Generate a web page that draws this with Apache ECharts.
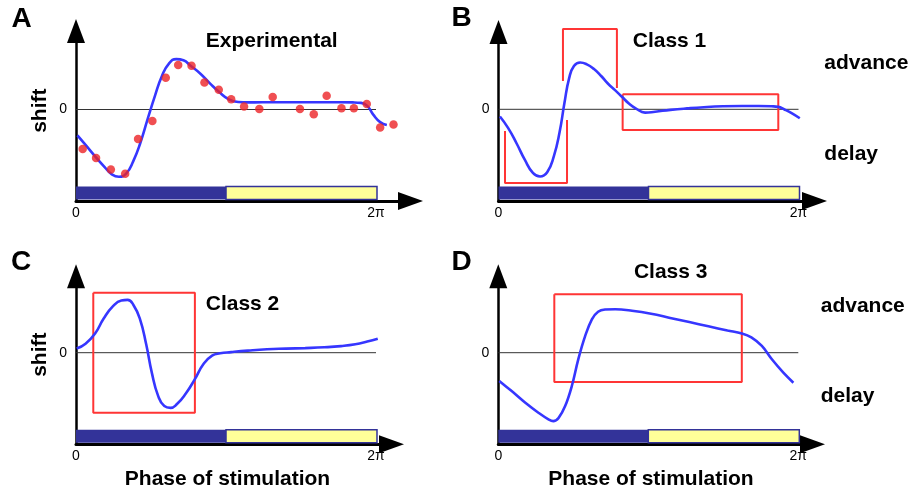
<!DOCTYPE html>
<html>
<head>
<meta charset="utf-8">
<script src="https://cdn.jsdelivr.net/npm/echarts@6/dist/echarts.min.js"></script>
<style>
  html, body { margin: 0; padding: 0; background: #fff; }
  #chart { width: 910px; height: 492px; }
</style>
</head>
<body>
<div id="chart"></div>
<script>
const TWO_PI = 2 * Math.PI;

// Axis ticks
const phaseTickValues = [0, TWO_PI];
const phaseTickLabels = ['0', '2π'];
const shiftTickValues = [0];
const shiftTickLabels = ['0'];

// Stimulation bar: dark half then light half of the cycle
const stimSegments = [
  [0, Math.PI, 0],
  [Math.PI, TWO_PI, 1]
];

// A: measured phase shifts and the fitted curve
const expPhase = [0.14, 0.42, 0.73, 1.03, 1.30, 1.60, 1.88, 2.14, 2.42, 2.69, 2.99, 3.25,
                  3.52, 3.84, 4.12, 4.69, 4.98, 5.25, 5.56, 5.82, 6.09, 6.37, 6.65];
const expShift = [-0.66, -0.81, -1.00, -1.07, -0.49, -0.19, 0.53, 0.74, 0.73, 0.45, 0.33, 0.17,
                  0.05, 0.01, 0.21, 0.01, -0.08, 0.23, 0.02, 0.02, 0.09, -0.30, -0.25];
const fitA = [[0.03,-0.43],[0.2,-0.59],[0.4,-0.78],[0.6,-0.96],[0.75,-1.08],[0.9,-1.12],
              [1.05,-1.07],[1.2,-0.86],[1.35,-0.55],[1.5,-0.16],[1.65,0.22],[1.8,0.56],
              [1.95,0.77],[2.1,0.84],[2.25,0.82],[2.4,0.73],[2.6,0.60],[2.8,0.44],
              [3.0,0.29],[3.2,0.17],[3.4,0.125],[3.6,0.118],[3.9,0.12],[4.3,0.12],
              [4.7,0.12],[5.1,0.12],[5.5,0.12],[5.8,0.118],[5.97,0.11],[6.1,0.06],
              [6.23,-0.09],[6.37,-0.21],[6.51,-0.26]];

// B: Class 1 response
const class1Curve = [[0.03,-0.12],[0.2,-0.31],[0.38,-0.57],[0.55,-0.84],[0.72,-1.06],[0.87,-1.12],
                     [1.02,-1.05],[1.16,-0.78],[1.28,-0.38],[1.38,0.1],[1.48,0.52],[1.58,0.72],
                     [1.71,0.78],[1.85,0.75],[2.0,0.67],[2.15,0.555],[2.29,0.43],[2.44,0.32],
                     [2.59,0.205],[2.73,0.097],[2.88,0.013],[3.07,-0.055],[3.28,-0.04],[3.6,-0.01],
                     [3.95,0.015],[4.3,0.035],[4.7,0.05],[5.1,0.055],[5.45,0.055],[5.72,0.05],
                     [5.86,0.04],[5.98,0.0],[6.13,-0.06],[6.31,-0.15]];
const class1DelayZone = [[0.136,-0.36],[0.136,-1.23],[1.435,-1.23],[1.435,-0.18]];
const class1AdvanceZone = [[1.35,0.47],[1.35,1.34],[2.48,1.34],[2.48,0.355]];
const class1DeadZone = [[2.60,0.25],[5.86,0.25],[5.86,-0.345],[2.60,-0.345],[2.60,0.25]];

// C: Class 2 response
const class2Curve = [[0.015,0.07],[0.2,0.15],[0.4,0.32],[0.58,0.57],[0.78,0.78],[0.95,0.87],
                     [1.08,0.88],[1.2,0.8],[1.34,0.56],[1.47,0.14],[1.59,-0.34],[1.72,-0.72],
                     [1.85,-0.89],[1.98,-0.92],[2.11,-0.86],[2.3,-0.68],[2.49,-0.44],[2.67,-0.19],
                     [2.85,-0.05],[3.02,-0.01],[3.25,0.01],[3.6,0.035],[4.0,0.057],[4.4,0.068],
                     [4.8,0.077],[5.2,0.09],[5.55,0.11],[5.85,0.14],[6.1,0.185],[6.32,0.233]];
const class2Zone = [[0.362,1.0],[2.49,1.0],[2.49,-1.0],[0.362,-1.0],[0.362,1.0]];

// D: Class 3 response
const class3Curve = [[0.02,-0.47],[0.28,-0.64],[0.56,-0.83],[0.84,-1.0],[1.05,-1.11],[1.15,-1.14],
                     [1.26,-1.09],[1.40,-0.89],[1.54,-0.555],[1.675,-0.11],[1.82,0.28],[1.96,0.557],
                     [2.09,0.683],[2.235,0.72],[2.45,0.725],[2.8,0.70],[3.2,0.65],[3.6,0.58],
                     [4.0,0.51],[4.4,0.44],[4.8,0.37],[5.1,0.32],[5.3,0.255],[5.52,0.112],
                     [5.73,-0.11],[5.97,-0.333],[6.18,-0.50]];
const class3Zone = [[1.173,0.973],[5.10,0.973],[5.10,-0.488],[1.173,-0.488],[1.173,0.973]];

// Panel frames (pixels): y-axis x, zero line y, x-axis y, arrow centres
const PX_PER_UNIT = 60;
const PX_PER_2PI = 300;
const panels = [
  { left: 76,    zeroY: 109.5, axisY: 201,   topY: 31,    rightX: 410.5 },
  { left: 498.5, zeroY: 109.3, axisY: 201,   topY: 32,    rightX: 814.5 },
  { left: 76,    zeroY: 352.7, axisY: 444.3, topY: 276.3, rightX: 391.5 },
  { left: 498.3, zeroY: 352.7, axisY: 444.3, topY: 276.3, rightX: 812.5 }
];

const FONT = '"Liberation Sans", Arial, Helvetica, sans-serif';
const BLUE = '#3636FF';
const RED = '#FF3535';

const grids = [], xAxes = [], yAxes = [], series = [];

panels.forEach((p, i) => {
  grids.push({
    left: p.left, top: p.topY,
    width: p.rightX - p.left, height: p.axisY - p.topY,
    outerBoundsMode: 'none'
  });
  xAxes.push({
    type: 'value', gridIndex: i,
    min: 0, max: (p.rightX - p.left) / PX_PER_2PI * TWO_PI,
    axisLine: { show: true, onZero: false, symbol: ['none', 'triangle'], symbolSize: [18, 25],
                lineStyle: { color: '#000', width: 3 } },
    axisTick: { show: false },
    splitLine: { show: false },
    axisLabel: {
      customValues: phaseTickValues,
      formatter: v => phaseTickLabels[phaseTickValues.findIndex(t => Math.abs(t - v) < 1e-6)] || '',
      margin: 5, fontSize: 14, color: '#000', fontFamily: FONT
    }
  });
  yAxes.push({
    type: 'value', gridIndex: i,
    min: (p.zeroY - p.axisY) / PX_PER_UNIT, max: (p.zeroY - p.topY) / PX_PER_UNIT,
    axisLine: { show: true, onZero: false, symbol: ['none', 'triangle'], symbolSize: [18, 24],
                lineStyle: { color: '#000', width: 2.5 } },
    axisTick: { show: false },
    splitLine: { show: false },
    axisLabel: {
      customValues: shiftTickValues,
      formatter: v => shiftTickLabels[shiftTickValues.indexOf(v)] ?? '',
      margin: 9, fontSize: 14, color: '#000', fontFamily: FONT
    }
  });

  // zero-shift reference line
  series.push({
    type: 'line', xAxisIndex: i, yAxisIndex: i, silent: true,
    data: [[0, 0], [TWO_PI, 0]], symbol: 'none',
    lineStyle: { color: '#333', width: 1 }, z: 1
  });

  // dark / light stimulation bar along the phase axis
  series.push({
    type: 'custom', xAxisIndex: i, yAxisIndex: i, silent: true,
    data: stimSegments, z: 3,
    renderItem(params, api) {
      const x0 = api.coord([api.value(0), 0])[0];
      const x1 = api.coord([api.value(1), 0])[0];
      const cs = params.coordSys;
      const bottom = cs.y + cs.height - 1.5;
      const h = 13;
      const light = api.value(2) === 1;
      return {
        type: 'rect',
        shape: { x: x0, y: bottom - h, width: x1 - x0 + (light ? 1 : 0), height: h },
        style: light ? { fill: '#FFFF99', stroke: '#333399', lineWidth: 1.5 }
                     : { fill: '#333399', stroke: null }
      };
    }
  });
});

function curve(i, data, smooth) {
  return {
    type: 'line', xAxisIndex: i, yAxisIndex: i, data, smooth: smooth,
    symbol: 'none', clip: false, z: 5,
    lineStyle: { color: BLUE, width: 2.6 }
  };
}
function zone(i, data) {
  return {
    type: 'line', xAxisIndex: i, yAxisIndex: i, data, smooth: false,
    symbol: 'none', clip: false, z: 4, silent: true,
    lineStyle: { color: RED, width: 2 }
  };
}

series.push({
  type: 'scatter', xAxisIndex: 0, yAxisIndex: 0,
  data: expPhase.map((x, k) => [x, expShift[k]]),
  symbolSize: 8.5, itemStyle: { color: '#EC2327' }, z: 6, clip: false
});
series.push(curve(0, fitA, 0.5));

series.push(zone(1, class1DelayZone));
series.push(zone(1, class1AdvanceZone));
series.push(zone(1, class1DeadZone));
series.push(curve(1, class1Curve, 0.5));

series.push(zone(2, class2Zone));
series.push(curve(2, class2Curve, 0.5));

series.push(zone(3, class3Zone));
series.push(curve(3, class3Curve, 0.4));

function label(text, x, y, size, opts = {}) {
  return {
    type: 'text', x, y, rotation: opts.rotation || 0, silent: true, z: 10,
    style: {
      text, fill: '#000',
      font: `${opts.weight || 'bold'} ${size}px ${FONT}`,
      textAlign: opts.align || 'center', textVerticalAlign: 'middle'
    }
  };
}

const graphics = [
  label('A', 21.5, 19, 28),
  label('B', 461.5, 18.5, 28),
  label('C', 21, 262, 28),
  label('D', 461.5, 262, 28),
  label('Experimental', 271.7, 41, 21),
  label('Class 1', 669.5, 41, 21),
  label('Class 2', 242.5, 304.5, 21),
  label('Class 3', 670.7, 272.3, 21),
  label('advance', 824.3, 63.7, 21, { align: 'left' }),
  label('delay', 824.3, 154.2, 21, { align: 'left' }),
  label('advance', 820.7, 306.5, 21, { align: 'left' }),
  label('delay', 820.7, 396, 21, { align: 'left' }),
  label('shift', 40, 110.7, 21, { rotation: Math.PI / 2 }),
  label('shift', 40, 354.7, 21, { rotation: Math.PI / 2 }),
  label('Phase of stimulation', 227.5, 479.3, 21),
  label('Phase of stimulation', 651, 479.3, 21)
];

const chart = echarts.init(document.getElementById('chart'), null, { renderer: 'canvas' });
chart.setOption({
  animation: false,
  backgroundColor: '#fff',
  grid: grids,
  xAxis: xAxes,
  yAxis: yAxes,
  series,
  graphic: graphics
});
</script>
</body>
</html>
